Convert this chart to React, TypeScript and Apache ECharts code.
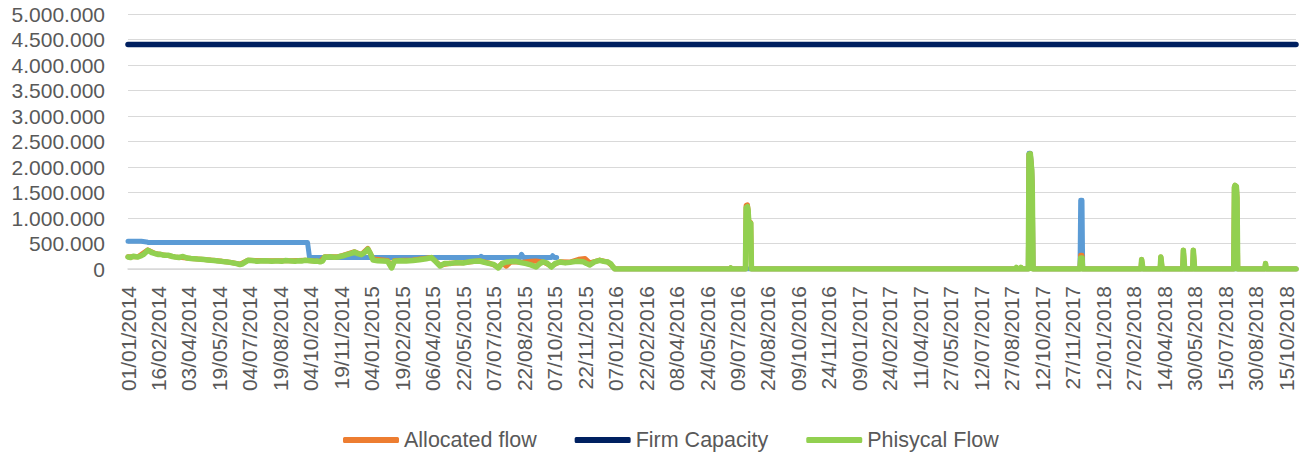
import React, { useEffect, useRef } from "react";
import * as echarts from "echarts";

// Day index 0 = 01/01/2014; x values are days since that date.
const START_UTC = Date.UTC(2014, 0, 1);
const LAST_DAY = 1763;
const LABEL_STEP_DAYS = 46;

const yTicksMax = 5000000;
const yTickStep = 500000;

const legendNames = ["Allocated flow", "Firm Capacity", "Phisycal Flow"];

// Technical capacity (blue, not in legend); null = no value
const technicalCapacity: [number, number | null][] = [
  [0, 545000], [20, 545000], [28, 530000], [31, 518000], [271, 518000], [274, 225000],
  [531, 225000], [533, 250000], [536, 225000], [592, 225000], [594, 289000],
  [597, 225000], [639, 225000], [641, 260000], [644, 225000], [647, 225000],
  [648, null], [735, 0], [1359, 0], [1360, 2270000], [1362, 2270000], [1363, 2100000],
  [1364, 1950000], [1365, 1500000], [1366, 0], [1437, 0], [1438, 1350000],
  [1440, 1350000], [1441, 0], [1763, 0],
];

// Allocated flow (orange)
const allocatedFlow: [number, number][] = [
  [0, 240000], [15, 240000], [30, 375000], [41, 305000], [56, 272000],
  [71, 238000], [95, 206000], [115, 188000], [136, 160000], [156, 128000],
  [169, 92000], [181, 172000], [207, 162000], [247, 160000], [267, 172000],
  [290, 145000], [297, 238000], [317, 238000], [342, 338000], [352, 285000],
  [362, 405000], [370, 195000], [392, 165000], [398, 40000], [402, 168000],
  [430, 178000], [458, 226000], [471, 70000], [486, 112000], [506, 122000],
  [531, 160000], [546, 112000], [559, 40000], [565, 110000], [571, 55000],
  [578, 140000], [593, 130000], [608, 150000], [616, 155000], [626, 140000],
  [639, 60000], [652, 140000], [667, 135000], [680, 190000], [690, 205000],
  [697, 120000], [712, 175000], [724, 140000], [732, 45000], [735, 0],
  [909, 0], [910, 20000], [911, 0], [932, 0], [933, 1250000], [935, 1260000],
  [936, 1160000], [937, 930000], [940, 910000], [941, 0], [1340, 0],
  [1341, 30000], [1342, 0], [1347, 0], [1348, 30000], [1349, 0], [1359, 0],
  [1360, 2250000], [1362, 2260000], [1363, 2100000], [1364, 1950000],
  [1365, 1500000], [1366, 0], [1437, 0], [1438, 270000], [1440, 270000],
  [1441, 0], [1529, 0], [1530, 185000], [1531, 185000], [1532, 0], [1558, 0],
  [1559, 235000], [1560, 235000], [1561, 0], [1592, 0], [1593, 367000],
  [1594, 367000], [1595, 0], [1607, 0], [1608, 367000], [1609, 367000],
  [1610, 0], [1669, 0], [1670, 1600000], [1671, 1640000], [1673, 1620000],
  [1674, 1400000], [1675, 0], [1716, 0], [1717, 106000], [1718, 0], [1763, 0],
];

// Firm capacity (navy)
const firmCapacity: [number, number][] = [
  [0, 4400000], [1763, 4400000],
];

// Physical flow (green)
const physicalFlow: [number, number][] = [
  [0, 235000], [4, 225000], [8, 250000], [12, 240000], [15, 235000], [19, 255000],
  [23, 282000], [27, 330000], [30, 367000], [33, 345000], [36, 320000], [41, 302000],
  [45, 285000], [48, 290000], [52, 275000], [56, 269000], [60, 272000], [63, 260000],
  [67, 245000], [71, 235000], [77, 225000], [80, 238000], [83, 245000], [89, 215000],
  [95, 204000], [100, 200000], [105, 195000], [110, 192000], [115, 185000],
  [120, 178000], [125, 170000], [130, 168000], [136, 157000], [141, 150000],
  [146, 140000], [151, 135000], [156, 125000], [162, 110000], [166, 100000],
  [169, 86000], [172, 95000], [175, 120000], [181, 170000], [186, 165000],
  [190, 160000], [195, 152000], [200, 157000], [207, 160000], [212, 158000],
  [217, 150000], [222, 155000], [227, 157000], [232, 150000], [237, 165000],
  [242, 160000], [247, 157000], [252, 150000], [257, 162000], [262, 158000],
  [267, 170000], [271, 165000], [275, 160000], [282, 151000], [286, 155000],
  [290, 140000], [294, 160000], [297, 235000], [301, 230000], [305, 240000],
  [311, 232000], [317, 235000], [321, 250000], [325, 260000], [329, 275000],
  [333, 290000], [338, 310000], [342, 334000], [347, 300000], [352, 282000],
  [357, 320000], [362, 387000], [366, 300000], [370, 175000], [377, 160000],
  [385, 158000], [392, 150000], [398, 20000], [402, 150000], [410, 162000],
  [420, 158000], [430, 165000], [440, 180000], [450, 200000], [458, 224000],
  [464, 150000], [471, 59000], [478, 110000], [486, 106000], [495, 125000],
  [506, 118000], [515, 140000], [523, 150000], [531, 157000], [538, 130000],
  [546, 106000], [552, 90000], [559, 20000], [565, 110000], [571, 137000],
  [578, 145000], [586, 150000], [593, 125000], [601, 106000], [608, 80000],
  [616, 39000], [621, 100000], [626, 137000], [632, 120000], [639, 39000],
  [645, 110000], [652, 137000], [660, 120000], [667, 130000], [677, 150000],
  [687, 140000], [692, 110000], [697, 78000], [704, 140000], [712, 170000],
  [718, 150000], [724, 137000], [729, 100000], [732, 39000], [735, 0],
  [909, 0], [910, 20000], [911, 0], [932, 0], [933, 1200000], [935, 1220000],
  [936, 1150000], [937, 920000], [940, 900000], [941, 0], [1340, 0],
  [1341, 30000], [1342, 0], [1347, 0], [1348, 30000], [1349, 0], [1359, 0],
  [1360, 2250000], [1362, 2260000], [1363, 2100000], [1364, 1950000],
  [1365, 1500000], [1366, 0], [1437, 0], [1438, 216000], [1440, 216000],
  [1441, 0], [1529, 0], [1530, 185000], [1531, 185000], [1532, 0], [1558, 0],
  [1559, 235000], [1560, 235000], [1561, 0], [1592, 0], [1593, 367000],
  [1594, 367000], [1595, 0], [1607, 0], [1608, 367000], [1609, 367000],
  [1610, 0], [1669, 0], [1670, 1600000], [1671, 1640000], [1673, 1620000],
  [1674, 1400000], [1675, 0], [1716, 0], [1717, 106000], [1718, 0], [1763, 0],
];

const FONT = "'Liberation Sans', Arial, sans-serif";
const TEXT_COLOR = "#595959";
const GRID_COLOR = "#D9D9D9";

function pad(n: number) {
  return n < 10 ? "0" + n : String(n);
}

function dayLabel(d: number) {
  const t = new Date(START_UTC + d * 86400000);
  return pad(t.getUTCDate()) + "/" + pad(t.getUTCMonth() + 1) + "/" + t.getUTCFullYear();
}

function thousands(v: number) {
  return String(v).replace(/\B(?=(\d{3})+(?!\d))/g, ".");
}

function lineSeries(name: string, data: [number, number | null][], color: string, width: number) {
  return {
    name,
    type: "line",
    data: data.map(([x, y]) => [x, y === null ? "-" : y]),
    showSymbol: false,
    symbol: "none",
    silent: true,
    connectNulls: false,
    color,
    lineStyle: { color, width, cap: "round", join: "round" },
  };
}

export default function App() {
  const ref = useRef<HTMLDivElement>(null);

  useEffect(() => {
    if (!ref.current) return;
    const chart = echarts.init(ref.current, null, { renderer: "svg" });
    chart.setOption({
      animation: false,
      backgroundColor: "#ffffff",
      textStyle: { fontFamily: FONT },
      grid: { left: 128, right: 13, top: 14, bottom: 188, containLabel: false },
      legend: {
        data: legendNames,
        left: 338,
        top: 424,
        icon: "roundRect",
        itemWidth: 56,
        itemHeight: 6,
        itemGap: 38,
        textStyle: { color: TEXT_COLOR, fontSize: 21.5, fontFamily: FONT },
      },
      xAxis: {
        type: "value",
        min: 0,
        max: LAST_DAY,
        interval: LABEL_STEP_DAYS,
        axisLine: { show: true, lineStyle: { color: GRID_COLOR, width: 1.5 } },
        axisTick: { show: false },
        splitLine: { show: false },
        axisLabel: {
          rotate: 90,
          margin: 17,
          color: TEXT_COLOR,
          fontSize: 21,
          fontFamily: FONT,
          showMaxLabel: false,
          formatter: (v: number) => (v % LABEL_STEP_DAYS === 0 ? dayLabel(v) : ""),
        },
      },
      yAxis: {
        type: "value",
        min: 0,
        max: yTicksMax,
        interval: yTickStep,
        axisLine: { show: false },
        axisTick: { show: false },
        splitLine: { show: true, lineStyle: { color: GRID_COLOR, width: 1 } },
        axisLabel: {
          margin: 23,
          color: TEXT_COLOR,
          fontSize: 21,
          fontFamily: FONT,
          formatter: (v: number) => thousands(v),
        },
      },
      series: [
        lineSeries("Technical Capacity", technicalCapacity, "#5B9BD5", 5),
        lineSeries("Allocated flow", allocatedFlow, "#ED7D31", 5),
        lineSeries("Firm Capacity", firmCapacity, "#002060", 5.5),
        lineSeries("Phisycal Flow", physicalFlow, "#92D050", 5.5),
      ],
    });
    return () => chart.dispose();
  }, []);

  return (
    <div
      ref={ref}
      style={{ position: "fixed", left: 0, top: 0, width: 1309, height: 457, background: "#fff" }}
    />
  );
}
